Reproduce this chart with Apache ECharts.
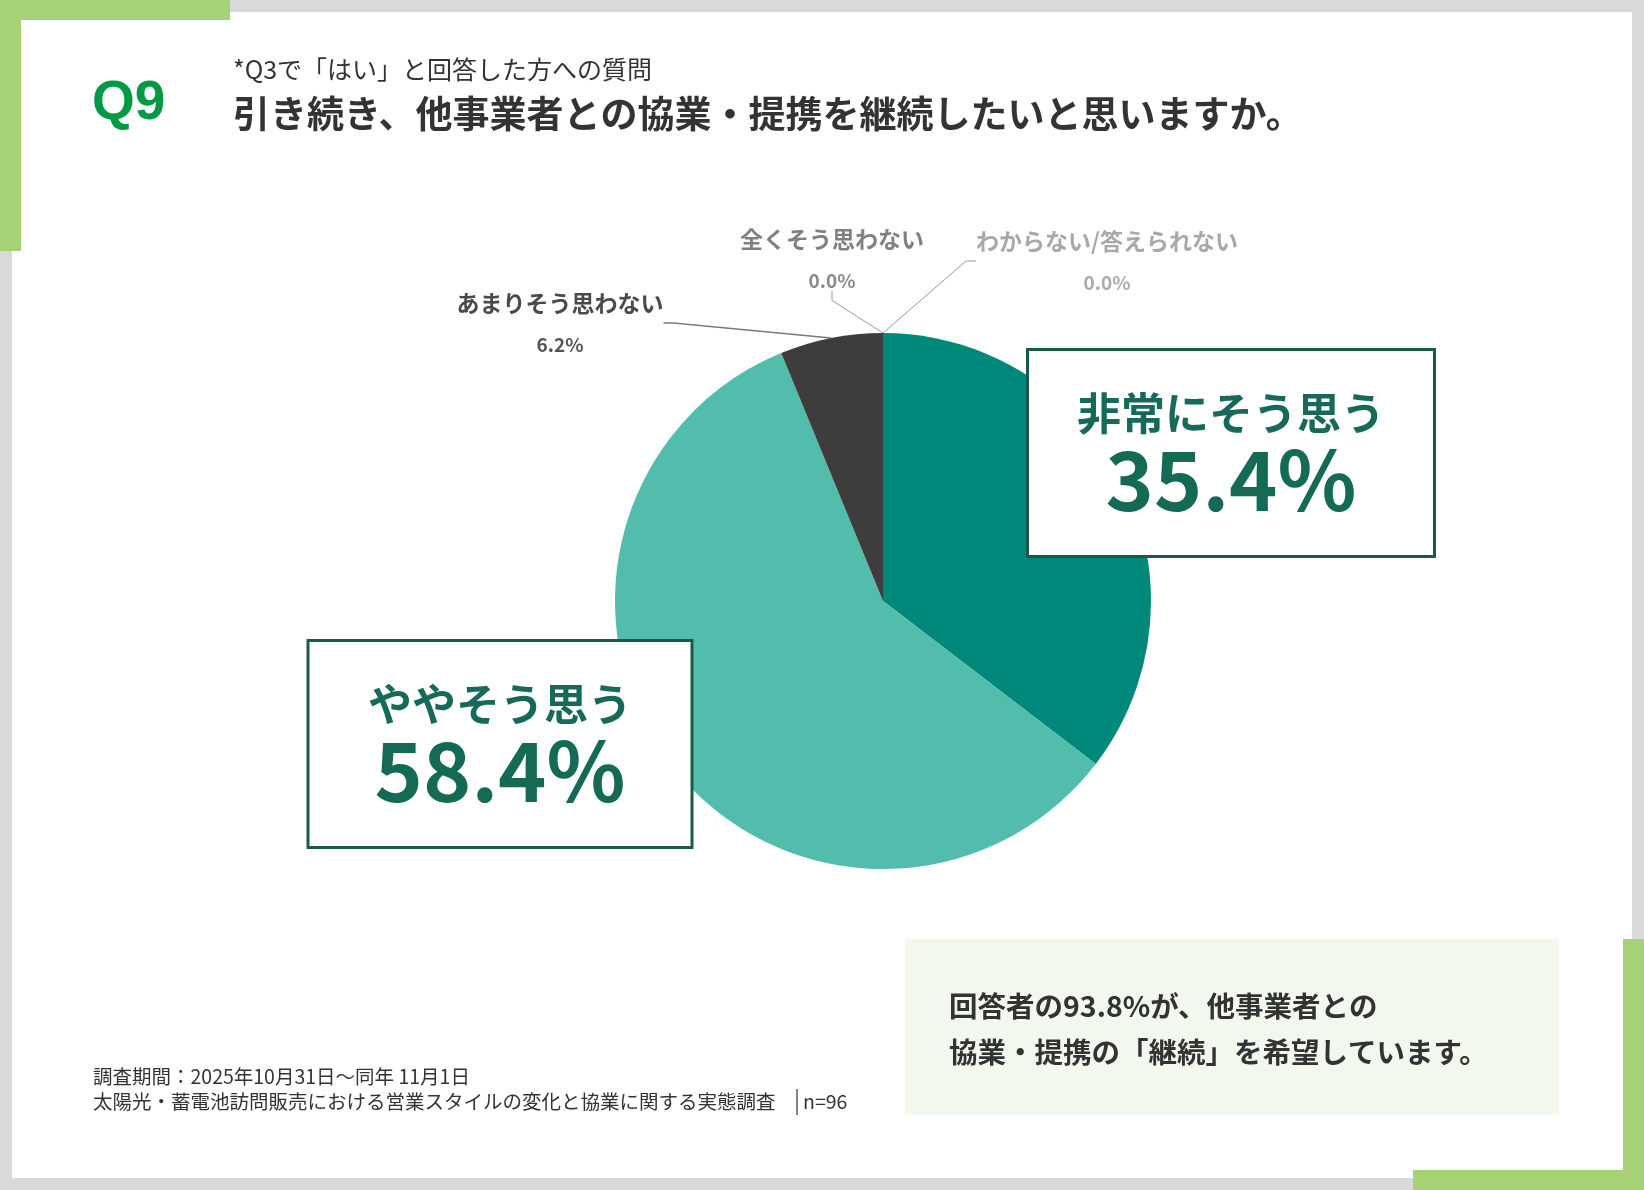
<!DOCTYPE html>
<html><head><meta charset="utf-8">
<script src="https://cdn.jsdelivr.net/npm/echarts@6/dist/echarts.min.js"></script>
<style>html,body{margin:0;padding:0;background:#d9d9d9}#c{width:1644px;height:1190px}</style>
</head><body><div id="c"></div>
<script>
// ---- data ----
const categories = ['非常にそう思う', 'ややそう思う', 'あまりそう思わない', '全くそう思わない', 'わからない/答えられない'];
const values = [35.4, 58.4, 6.2, 0.0, 0.0];
const sliceColors = ['#00897a', '#52bdad', '#3e3c3d', '#bfbfbf', '#d9d9d9'];
const qNumber = 'Q9';
const subTitle = '*Q3で「はい」と回答した方への質問';
const mainTitle = '引き続き、他事業者との協業・提携を継続したいと思いますか。';
const noteLines = ['回答者の93.8%が、他事業者との', '協業・提携の「継続」を希望しています。'];
const footLines = ['調査期間：2025年10月31日～同年 11月1日', '太陽光・蓄電池訪問販売における営業スタイルの変化と協業に関する実態調査'];
const sampleText = 'n=96';

// ---- layout / style config ----
const FONT = '"Noto Sans CJK JP", "Noto Sans", sans-serif';
const labelAnchors = [[1231, 453], [500, 744], [560, 324], [832, 260], [1107, 262]];
const smallColors = [null, null, ['#4a4a4a', '#555555'], ['#808080', '#8a8a8a'], ['#a8a8a8', '#ababab']];
const boxWidths = [404, 381];

const chart = echarts.init(document.getElementById('c'), null, {renderer: 'canvas'});

const data = categories.map((name, i) => {
  const pct = values[i].toFixed(1) + '%';
  let label, labelLine;
  if (i < 2) {
    label = {
      show: true,
      formatter: '{n|' + name + '}\n{v|' + pct + '}',
      backgroundColor: '#ffffff',
      borderColor: '#1c5a48',
      borderWidth: 3,
      width: boxWidths[i],
      padding: [33, 0, 37, 0],
      align: 'center',
      rich: {
        n: {fontFamily: FONT, fontSize: 44, fontWeight: 'bold', color: '#17695a', lineHeight: 58, align: 'center'},
        v: {fontFamily: FONT, fontSize: 82, fontWeight: 'bold', color: '#146a55', lineHeight: 76, align: 'center'}
      }
    };
    labelLine = {show: false};
  } else {
    const c = smallColors[i];
    label = {
      show: true,
      formatter: '{n|' + name + '}\n{p|' + pct + '}',
      align: 'center',
      rich: {
        n: {fontFamily: FONT, fontSize: 23, fontWeight: 'bold', color: c[0], lineHeight: 42, align: 'center'},
        p: {fontFamily: FONT, fontSize: 19, fontWeight: 'bold', color: c[1], lineHeight: 42, align: 'center'}
      }
    };
    labelLine = {show: true, length: 30, length2: 10, smooth: false,
      lineStyle: {color: i === 2 ? '#7a7a7a' : '#9a9a9a', width: i === 2 ? 1.5 : 1}};
  }
  return {name, value: values[i], itemStyle: {color: sliceColors[i]}, label, labelLine};
});

function rect(x, y, w, h, fill) {
  return {type: 'rect', shape: {x, y, width: w, height: h}, style: {fill}, silent: true};
}
function txt(x, y, text, size, weight, fill, align) {
  return {type: 'text', x, y, silent: true,
    style: {text, fontSize: size, fontWeight: weight, fontFamily: FONT, fill,
      align: align || 'left', verticalAlign: 'middle'}};
}

const graphic = [
  rect(12, 12, 1620, 1166, '#ffffff'),
  rect(0, 0, 230, 20, '#a6d275'),
  rect(0, 0, 21, 251, '#a6d275'),
  rect(1623, 939, 21, 251, '#a6d275'),
  rect(1413, 1170, 231, 20, '#a6d275'),
  rect(905, 939, 654, 176, '#f3f8ee'),
  {type: 'text', x: 92, y: 104, silent: true,
    style: {text: qNumber, fontSize: 55, fontWeight: 'bold', fontFamily: '"Liberation Sans", Arial, sans-serif',
      fill: '#009a44', align: 'left', verticalAlign: 'middle'}},
  txt(233, 69, subTitle, 25, 'normal', '#333333'),
  txt(233, 114, mainTitle, 37, 'bold', '#333333'),
  txt(949, 1006, noteLines[0], 28.5, 'bold', '#333333'),
  txt(949, 1052, noteLines[1], 28.5, 'bold', '#333333'),
  txt(93, 1077, footLines[0], 19.5, 'normal', '#333333'),
  txt(93, 1102, footLines[1], 19.5, 'normal', '#333333'),
  {type: 'line', shape: {x1: 797, y1: 1089, x2: 797, y2: 1115}, style: {stroke: '#333333', lineWidth: 1.2}, silent: true},
  txt(803, 1102, sampleText, 19.5, 'normal', '#333333')
];

chart.setOption({
  animation: false,
  backgroundColor: '#d9d9d9',
  graphic: graphic,
  series: [{
    type: 'pie',
    center: [883, 601],
    radius: 268,
    startAngle: 90,
    clockwise: true,
    avoidLabelOverlap: false,
    stillShowZeroSum: true,
    minShowLabelAngle: 0,
    itemStyle: {borderWidth: 0},
    emphasis: {disabled: true},
    data: data,
    labelLayout: function (params) {
      const p = labelAnchors[params.dataIndex];
      return {x: p[0], y: p[1], align: 'center', verticalAlign: 'middle'};
    }
  }]
});
</script>
</body></html>
